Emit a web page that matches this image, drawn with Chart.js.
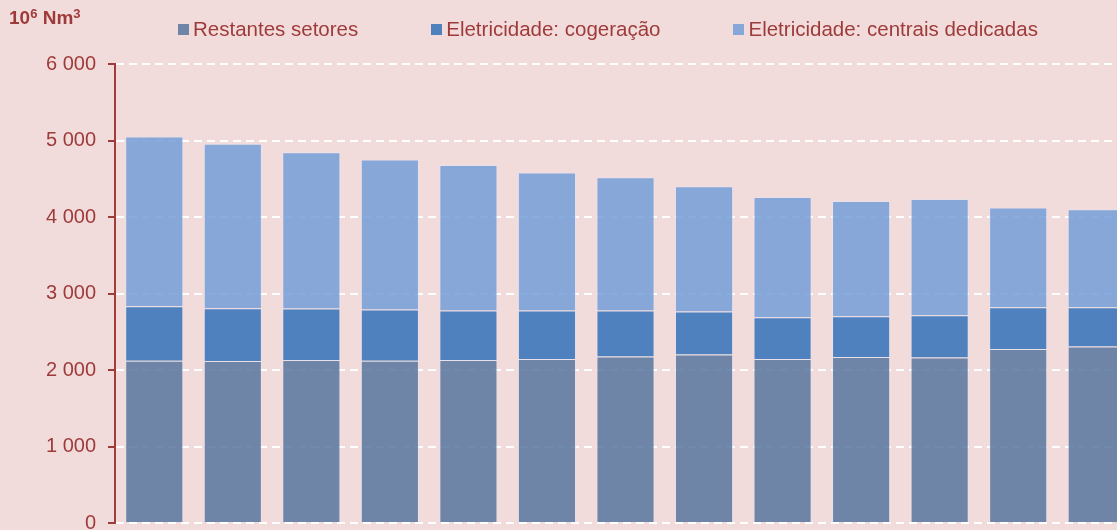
<!DOCTYPE html>
<html>
<head>
<meta charset="utf-8">
<script src="https://cdn.jsdelivr.net/npm/chart.js@4/dist/chart.umd.min.js"></script>
<style>
  html, body { margin: 0; padding: 0; background: #F2DCDB; }
  #wrap { position: relative; width: 1117px; height: 530px; overflow: hidden; background: #F2DCDB; }
  #chart { position: absolute; left: 0; top: 0; }
  #unit { position: absolute; left: 9px; top: 7px; font: bold 19px "Liberation Sans", Arial, sans-serif; color: #9E3A3A; }
  #unit sup { font-size: 13px; vertical-align: 6px; line-height: 0; }
  #legend { position: absolute; left: 178px; top: 17px; display: flex; gap: 73px;
            font: 20.5px "Liberation Sans", Arial, sans-serif; color: #9E3A3A; }
  #legend .item { display: flex; align-items: center; white-space: nowrap; }
  #legend .box { width: 11px; height: 11px; margin-right: 4px; margin-top: 1px; }
</style>
</head>
<body>
<div id="wrap">
  <canvas id="chart" width="1137" height="547"></canvas>
  <div id="unit">10<sup>6</sup> Nm<sup>3</sup></div>
  <div id="legend"></div>
</div>
<script>
// 13 anos (rótulos do eixo x cortados na imagem)
const categories = ['1', '2', '3', '4', '5', '6', '7', '8', '9', '10', '11', '12', '13'];
const seriesNames = ['Restantes setores', 'Eletricidade: cogeração', 'Eletricidade: centrais dedicadas'];
// 10^6 Nm3
const restantes = [2122, 2118, 2131, 2122, 2131, 2144, 2175, 2201, 2144, 2171, 2162, 2276, 2306];
const cogeracao = [712, 690, 673, 668, 646, 633, 602, 563, 546, 532, 554, 545, 515];
const centrais = [2218, 2148, 2043, 1962, 1904, 1804, 1743, 1638, 1572, 1507, 1520, 1302, 1279];
const yTicks = [0, 1000, 2000, 3000, 4000, 5000, 6000];

const legendColors = ['#6E85A8', '#4F81BD', '#86A7D8'];
const fillColors = ['rgba(87,118,159,0.85)', 'rgba(50,113,184,0.85)', 'rgba(115,158,215,0.85)'];
const red = '#9E3A3A';

const datasets = [restantes, cogeracao, centrais].map((vals, i) => ({
  label: seriesNames[i],
  data: vals,
  backgroundColor: fillColors[i],
  borderColor: 'rgba(225,230,245,0.55)',
  borderWidth: 1,
  barPercentage: 0.74,
  categoryPercentage: 1
}));

// legenda em html
const leg = document.getElementById('legend');
seriesNames.forEach((name, i) => {
  const it = document.createElement('div');
  it.className = 'item';
  it.innerHTML = '<span class="box" style="background:' + legendColors[i] + '"></span>' + name;
  leg.appendChild(it);
});

new Chart(document.getElementById('chart'), {
  type: 'bar',
  data: { labels: categories, datasets: datasets },
  options: {
    responsive: false,
    animation: false,
    devicePixelRatio: 1,
    layout: { padding: { top: 64, bottom: 8, left: 0, right: 1 } },
    plugins: { legend: { display: false }, tooltip: { enabled: false } },
    scales: {
      x: { stacked: true, display: false },
      y: {
        stacked: true,
        min: 0,
        max: 6000,
        afterFit: s => { s.width = 115; },
        afterBuildTicks: s => { s.ticks = yTicks.map(v => ({ value: v })); },
        ticks: {
          color: red,
          padding: 12,
          font: { family: '"Liberation Sans", Arial, sans-serif', size: 20 },
          callback: v => v.toLocaleString('en-US').replace(',', ' ')
        },
        grid: { color: '#FFFFFF', lineWidth: 2, tickLength: 7, tickColor: red, tickWidth: 2 },
        border: { color: '#A33B3B', width: 2, dash: [8, 5] }
      }
    }
  }
});
</script>
</body>
</html>
